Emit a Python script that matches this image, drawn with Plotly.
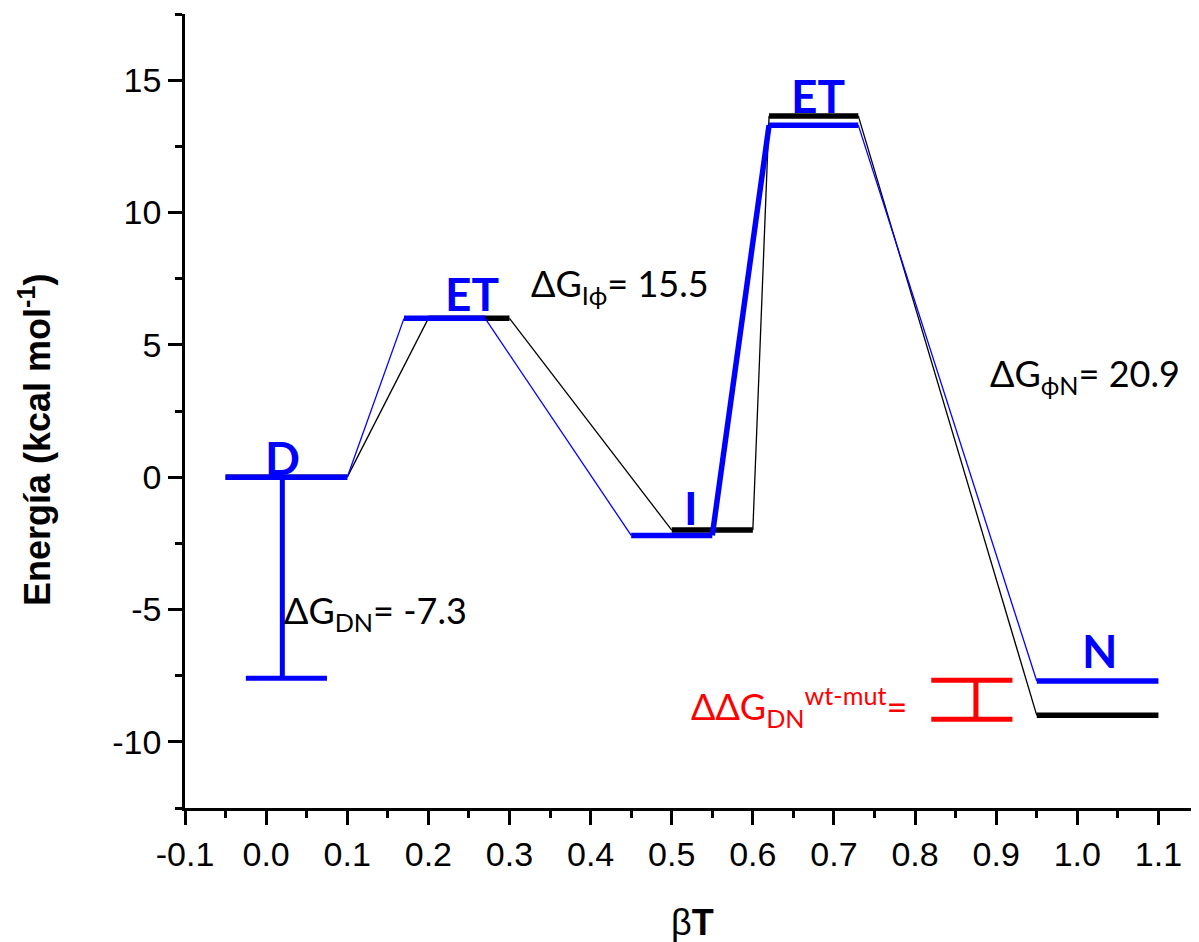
import plotly.graph_objects as go

# ---- data ----
states = ["D", "ET", "I", "ET", "N"]
blue_x_start = [-0.05, 0.17, 0.45, 0.62, 0.95]
blue_x_end = [0.10, 0.27, 0.55, 0.73, 1.10]
blue_energy = [0.0, 6.0, -2.2, 13.3, -7.7]
black_x_start = [-0.05, 0.20, 0.50, 0.62, 0.95]
black_x_end = [0.10, 0.30, 0.60, 0.73, 1.10]
black_energy = [0.0, 6.0, -2.0, 13.65, -9.0]

# state label positions
label_x = [0.02, 0.254, 0.524, 0.68, 1.027]
label_y = [0.75, 6.95, -1.13, 14.43, -6.54]

# error bars (dG_DN, ddG)
dgdn_x = 0.02
dgdn_top = 0.0
dgdn_bottom = -7.6
dgdn_cap = [-0.025, 0.075]
ddg_x = 0.875
ddg_top = -7.67
ddg_bottom = -9.15
ddg_cap = [0.82, 0.92]

x_tickvals = [-0.1, 0.0, 0.1, 0.2, 0.3, 0.4, 0.5, 0.6, 0.7, 0.8, 0.9, 1.0, 1.1]
x_ticktext = ["-0.1", "0.0", "0.1", "0.2", "0.3", "0.4", "0.5", "0.6", "0.7", "0.8", "0.9", "1.0", "1.1"]
y_tickvals = [-10, -5, 0, 5, 10, 15]
y_ticktext = ["-10", "-5", "0", "5", "10", "15"]

BLUE = "#0000FF"
BLACK = "#000000"
RED = "#FF0000"


def levels(xs, xe, e):
    X, Y = [], []
    for a, b, c in zip(xs, xe, e):
        X += [a, b, None]
        Y += [c, c, None]
    return X, Y


def connectors(xs, xe, e, idx):
    X, Y = [], []
    for i in idx:
        X += [xe[i], xs[i + 1], None]
        Y += [e[i], e[i + 1], None]
    return X, Y


fig = go.Figure()

# black profile
bx, by = connectors(black_x_start, black_x_end, black_energy, [0, 1, 2, 3])
fig.add_trace(go.Scatter(x=bx, y=by, mode="lines", line=dict(color=BLACK, width=1.3), hoverinfo="skip"))
bx, by = levels(black_x_start, black_x_end, black_energy)
fig.add_trace(go.Scatter(x=bx, y=by, mode="lines", line=dict(color=BLACK, width=5.5), hoverinfo="skip"))

# blue profile
ux, uy = connectors(blue_x_start, blue_x_end, blue_energy, [0, 1, 3])
fig.add_trace(go.Scatter(x=ux, y=uy, mode="lines", line=dict(color=BLUE, width=1.3), hoverinfo="skip"))
ux, uy = connectors(blue_x_start, blue_x_end, blue_energy, [2])
fig.add_trace(go.Scatter(x=ux, y=uy, mode="lines", line=dict(color=BLUE, width=5.5), hoverinfo="skip"))
ux, uy = levels(blue_x_start, blue_x_end, blue_energy)
fig.add_trace(go.Scatter(x=ux, y=uy, mode="lines", line=dict(color=BLUE, width=5.5), hoverinfo="skip"))

# dG_DN bar
fig.add_trace(go.Scatter(
    x=[dgdn_x, dgdn_x, None, dgdn_cap[0], dgdn_cap[1]],
    y=[dgdn_top, dgdn_bottom, None, dgdn_bottom, dgdn_bottom],
    mode="lines", line=dict(color=BLUE, width=5), hoverinfo="skip"))

# ddG bar
fig.add_trace(go.Scatter(
    x=[ddg_x, ddg_x, None, ddg_cap[0], ddg_cap[1], None, ddg_cap[0], ddg_cap[1]],
    y=[ddg_top, ddg_bottom, None, ddg_top, ddg_top, None, ddg_bottom, ddg_bottom],
    mode="lines", line=dict(color=RED, width=5), hoverinfo="skip"))

LAB_FONT = dict(family="Lato, 'Open Sans', sans-serif", size=46, color=BLUE)
TXT_FONT = dict(family="Lato, 'Open Sans', sans-serif", size=36, color=BLACK)

annotations = []
for s, x, y in zip(states, label_x, label_y):
    annotations.append(dict(x=x, y=y, xref="x", yref="y", text=f"<b>{s}</b>", showarrow=False,
                            font=LAB_FONT, xanchor="center", yanchor="middle"))

annotations += [
    dict(x=0.019, y=-5.1, xref="x", yref="y", text="ΔG<sub>DN</sub>= -7.3", showarrow=False,
         font=TXT_FONT, xanchor="left", yanchor="middle"),
    dict(x=0.324, y=7.25, xref="x", yref="y", text="ΔG<sub>Iϕ</sub>= 15.5", showarrow=False,
         font=TXT_FONT, xanchor="left", yanchor="middle"),
    dict(x=0.890, y=3.85, xref="x", yref="y", text="ΔG<sub>ϕN</sub>= 20.9", showarrow=False,
         font=TXT_FONT, xanchor="left", yanchor="middle"),
    dict(x=0.792, y=-8.65, xref="x", yref="y", text="ΔΔG<sub>DN</sub><sup>wt-mut</sup>=", showarrow=False,
         font=dict(family="Lato, 'Open Sans', sans-serif", size=36, color=RED), xanchor="right", yanchor="middle"),
    # y axis title
    dict(x=0, y=(794 - 440 + 14) / 794, xref="paper", yref="paper", xshift=-150, textangle=-90,
         text="<b>Energía (kcal mol<sup>-1</sup>)</b>", showarrow=False,
         font=dict(family="Arial, 'Liberation Sans', sans-serif", size=36, color=BLACK),
         xanchor="center", yanchor="middle", borderpad=0),
    # x axis title
    dict(x=0.5, y=0, xref="paper", yref="paper", yshift=-114,
         text="β<b>T</b>", showarrow=False,
         font=dict(family="Arial, 'Liberation Sans', sans-serif", size=36, color=BLACK),
         xanchor="center", yanchor="middle", borderpad=0),
]

axis_common = dict(
    showline=True, linecolor=BLACK, linewidth=2.5, mirror=False,
    ticks="outside", ticklen=14, tickwidth=2.5, tickcolor=BLACK,
    showgrid=False, zeroline=False, automargin=False,
    tickfont=dict(family="Arial, 'Liberation Sans', sans-serif", size=34, color=BLACK),
)

# page body has an 8px margin, so the figure is sized to fit the window
fig.update_layout(
    width=1191, height=934,
    margin=dict(l=177, r=0, t=6, b=134),
    paper_bgcolor="white", plot_bgcolor="white",
    showlegend=False,
    annotations=annotations,
    xaxis=dict(range=[-0.1, 1.15], tickvals=x_tickvals, ticktext=x_ticktext,
               minor=dict(dtick=0.05, tick0=-0.1, ticks="outside", ticklen=7, tickwidth=2.5, tickcolor=BLACK),
               **axis_common),
    yaxis=dict(range=[-12.5, 17.5], tickvals=y_tickvals, ticktext=y_ticktext,
               minor=dict(dtick=2.5, tick0=0, ticks="outside", ticklen=7, tickwidth=2.5, tickcolor=BLACK),
               **axis_common),
)

fig.write_html("out.html")
